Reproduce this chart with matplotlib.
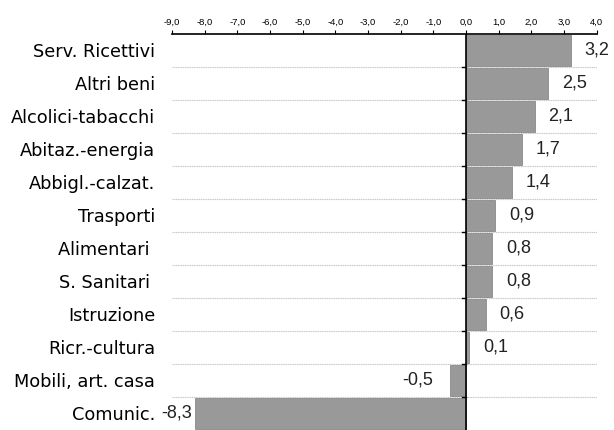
import matplotlib
matplotlib.use("Agg")
import matplotlib.pyplot as plt
import numpy as np

categories = ["Serv. Ricettivi", "Altri beni", "Alcolici-tabacchi", "Abitaz.-energia",
              "Abbigl.-calzat.", "Trasporti", "Alimentari ", "S. Sanitari ",
              "Istruzione", "Ricr.-cultura", "Mobili, art. casa", "Comunic."]
values = [3.2, 2.5, 2.1, 1.7, 1.4, 0.9, 0.8, 0.8, 0.6, 0.1, -0.5, -8.3]
ticks = np.arange(-9, 5, 1)

n = len(values)
y = np.arange(n)

fig = plt.figure(figsize=(6.14, 4.30), dpi=100)
ax = fig.add_axes([0.280, 0.0, 0.692, 0.921])

ax.barh(y, values, height=0.92, color="#999999", edgecolor="#8a8a8a", linewidth=0.6, zorder=2)

ax.set_xlim(-9, 4)
ax.set_ylim(n - 0.5, -0.5)

# dotted separators between categories
for k in range(n - 1):
    ax.axhline(k + 0.5, color="#c4c4c4", linestyle=(0, (1, 0.6)), linewidth=0.8, zorder=1)
    ax.plot([-0.12, 0], [k + 0.5, k + 0.5], color="black", linewidth=1, zorder=3)

ax.axvline(0, color="black", linewidth=1.2, zorder=3)

# value labels
for yi, v in zip(y, values):
    txt = f"{v:.1f}".replace(".", ",")
    if v >= 0:
        ax.annotate(txt, (v, yi), xytext=(10, 0), textcoords="offset points",
                    ha="left", va="center", fontsize=13, family="Liberation Sans", color="#222222")
    else:
        off = -12 if v > -8 else -2
        ax.annotate(txt, (v, yi), xytext=(off, 0), textcoords="offset points",
                    ha="right", va="center", fontsize=13, family="Liberation Sans", color="#222222")

ax.xaxis.tick_top()
ax.set_xticks(ticks)
ax.set_xticklabels([f"{t:.1f}".replace(".", ",") for t in ticks], fontsize=6.8,
                   family="Liberation Sans")
ax.tick_params(axis="x", direction="out", length=3, width=0.8, pad=2)

ax.set_yticks(y)
ax.set_yticklabels(categories, fontsize=12.8, family="DejaVu Sans")
ax.tick_params(axis="y", length=0, pad=12)

for s in ["left", "right", "bottom"]:
    ax.spines[s].set_visible(False)
ax.spines["top"].set_linewidth(1.2)

fig.savefig("out.png", dpi=100)
